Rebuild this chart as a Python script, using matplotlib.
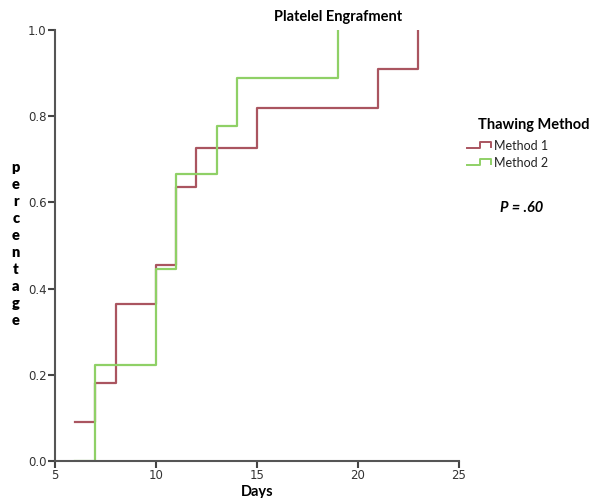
import matplotlib
matplotlib.use("Agg")
import matplotlib.pyplot as plt
from matplotlib.lines import Line2D

# Datos de la curva (dias y proporcion acumulada)
dias_m1 = [6, 7, 8, 10, 11, 12, 15, 21, 23]
prop_m1 = [0.0909, 0.1818, 0.3636, 0.4545, 0.6364, 0.7273, 0.8182, 0.9091, 1.0]
dias_m2 = [6, 7, 10, 11, 13, 14, 19]
prop_m2 = [0.0, 0.2222, 0.4444, 0.6667, 0.7778, 0.8889, 1.0]

x_ticks = [5, 10, 15, 20, 25]
y_ticks = [0.0, 0.2, 0.4, 0.6, 0.8, 1.0]

rojo = "#aa5560"
verde = "#8fd066"
fuente = "Lato"

fig = plt.figure(figsize=(5.89, 4.98), dpi=100)
ax = fig.add_axes([0.0934, 0.0743, 0.6856, 0.8655])

ax.step(dias_m1, prop_m1, where="post", color=rojo, lw=1.6)
ax.step(dias_m2, prop_m2, where="post", color=verde, lw=1.6)

ax.set_xlim(5, 25)
ax.set_ylim(0, 1.0)
ax.set_xticks(x_ticks)
ax.set_yticks(y_ticks)
ax.set_xticklabels([str(t) for t in x_ticks])
ax.set_yticklabels([f"{t:.1f}" for t in y_ticks])
for s in ["top", "right"]:
    ax.spines[s].set_visible(False)
for s in ["left", "bottom"]:
    ax.spines[s].set_color("#555555")
    ax.spines[s].set_linewidth(1.5)
ax.tick_params(direction="out", length=5, width=1.5, color="#444444",
               labelsize=8.5, labelcolor="#333333", pad=1)

# Titulo y etiquetas
fig.text(0.574, 0.966, "Platelel Engrafment", ha="center", va="center",
         fontsize=10.5, fontweight="bold", family=fuente)
fig.text(0.437, 0.012, "Days", ha="center", va="center",
         fontsize=10.5, fontweight="bold", family=fuente)
fig.text(0.027, 0.51, "\n".join("percentage"), ha="center", va="center",
         fontsize=10.5, fontweight="heavy", family=fuente, linespacing=1.36)

# Leyenda hecha a mano
fig.text(0.812, 0.749, "Thawing Method", ha="left", va="center",
         fontsize=10.5, fontweight="bold", family=fuente)
for i, (col, lab) in enumerate([(rojo, "Method 1"), (verde, "Method 2")]):
    y0 = 0.703 - i * 0.034
    xs = [0.793, 0.815, 0.815, 0.834, 0.834]
    ys = [y0, y0, y0 + 0.012, y0 + 0.012, y0 + 0.002]
    fig.add_artist(Line2D(xs, ys, color=col, lw=1.4, transform=fig.transFigure))
    fig.text(0.838, y0 + 0.004, lab, ha="left", va="center", fontsize=9,
             family=fuente, color="#222222")

fig.text(0.885, 0.582, "P = .60", ha="center", va="center", fontsize=10.5,
         fontweight="bold", fontstyle="italic", family=fuente)

plt.savefig("out.png", dpi=100)
